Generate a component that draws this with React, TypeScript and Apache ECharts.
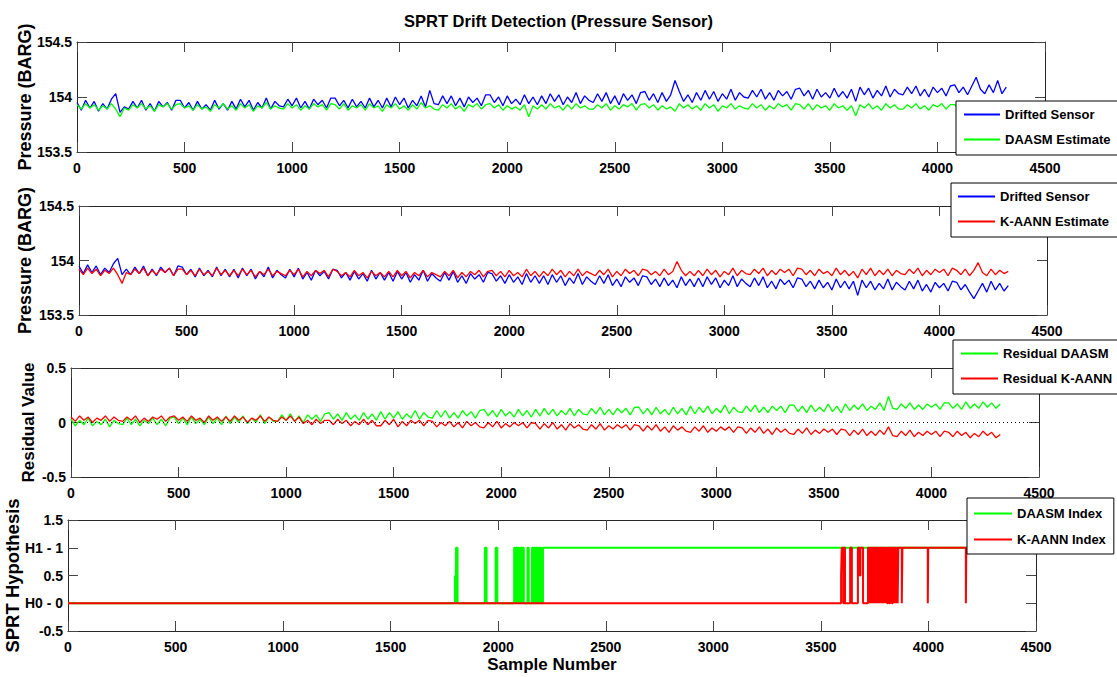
import React, { useEffect, useRef } from "react";
import * as echarts from "echarts";

// Sample spacing of the values
const SAMPLE_STEP = 20;

// Panel 1: drifted sensor vs DAASM estimate (BARG)
const drift1 = [
  153.95, 153.88, 153.97, 153.90, 153.96, 153.87, 153.94, 153.89, 153.98, 154.03, 153.86, 153.91,
  153.89, 153.96, 153.90, 153.97, 153.88, 153.94, 153.87, 153.96, 153.91, 153.95, 153.88, 153.97,
  153.97, 153.90, 153.95, 153.88, 153.96, 153.89, 153.93, 153.88, 153.97, 153.89, 153.94, 153.88,
  153.96, 153.89, 153.98, 153.91, 153.97, 153.88, 153.95, 153.90, 153.99, 153.89, 153.96, 153.92,
  153.91, 153.98, 153.92, 153.99, 153.90, 153.96, 153.89, 153.98, 153.93, 153.97, 153.90, 153.99,
  153.99, 153.92, 153.97, 153.90, 153.98, 153.91, 153.96, 153.90, 153.99, 153.91, 153.97, 153.90,
  153.99, 153.91, 154.00, 153.93, 153.99, 153.90, 153.97, 153.92, 154.01, 153.91, 154.06, 153.94,
  153.93, 154.01, 153.94, 154.01, 153.92, 153.99, 153.91, 154.00, 153.95, 153.99, 153.92, 154.02,
  154.02, 153.95, 154.00, 153.92, 154.01, 153.94, 153.98, 153.93, 154.02, 153.94, 154.00, 153.93,
  154.01, 153.94, 154.03, 153.96, 154.02, 153.93, 154.00, 153.95, 154.04, 153.94, 154.01, 153.97,
  153.95, 154.03, 153.96, 154.04, 153.94, 154.01, 153.93, 154.03, 153.97, 154.02, 153.94, 154.04,
  154.05, 153.97, 154.03, 153.95, 154.04, 153.96, 154.02, 154.15, 154.05, 153.96, 154.02, 153.95,
  154.04, 153.97, 154.06, 153.98, 154.05, 153.96, 154.03, 153.98, 154.07, 153.97, 154.04, 154.00,
  153.99, 154.06, 154.00, 154.07, 153.98, 154.04, 153.97, 154.06, 154.01, 154.05, 153.98, 154.07,
  154.08, 154.01, 154.06, 153.98, 154.07, 154.00, 154.04, 153.99, 154.08, 154.00, 154.05, 153.99,
  154.07, 153.96, 154.09, 154.02, 154.08, 153.99, 154.06, 154.01, 154.10, 154.00, 154.07, 154.03,
  154.02, 154.09, 154.03, 154.10, 154.01, 154.07, 154.00, 154.09, 154.04, 154.08, 154.01, 154.10,
  154.11, 154.04, 154.09, 154.02, 154.10, 154.18, 154.07, 154.03, 154.11, 154.04, 154.15, 154.03,
  154.09,
];
const daasmEstimate = [
  153.93, 153.89, 153.94, 153.90, 153.93, 153.88, 153.92, 153.89, 153.94, 153.89, 153.82, 153.90,
  153.88, 153.93, 153.90, 153.94, 153.89, 153.92, 153.87, 153.93, 153.91, 153.94, 153.89, 153.93,
  153.94, 153.90, 153.92, 153.88, 153.93, 153.89, 153.91, 153.87, 153.93, 153.90, 153.94, 153.89,
  153.92, 153.88, 153.94, 153.90, 153.93, 153.87, 153.92, 153.90, 153.95, 153.89, 153.92, 153.90,
  153.89, 153.94, 153.90, 153.93, 153.88, 153.92, 153.89, 153.94, 153.91, 153.93, 153.88, 153.94,
  153.93, 153.89, 153.94, 153.88, 153.92, 153.90, 153.93, 153.88, 153.94, 153.90, 153.92, 153.87,
  153.93, 153.90, 153.94, 153.89, 153.92, 153.88, 153.93, 153.89, 153.95, 153.90, 153.92, 153.89,
  153.88, 153.93, 153.90, 153.94, 153.89, 153.92, 153.87, 153.93, 153.91, 153.94, 153.89, 153.93,
  153.94, 153.90, 153.93, 153.88, 153.92, 153.89, 153.91, 153.88, 153.93, 153.82, 153.92, 153.89,
  153.93, 153.89, 153.94, 153.90, 153.92, 153.88, 153.93, 153.89, 153.94, 153.90, 153.92, 153.89,
  153.89, 153.93, 153.90, 153.94, 153.88, 153.92, 153.89, 153.93, 153.91, 153.94, 153.88, 153.93,
  153.94, 153.90, 153.93, 153.88, 153.92, 153.89, 153.91, 153.87, 153.94, 153.90, 153.93, 153.89,
  153.92, 153.88, 153.94, 153.90, 153.93, 153.87, 153.92, 153.90, 153.94, 153.89, 153.92, 153.90,
  153.89, 153.94, 153.90, 153.93, 153.88, 153.92, 153.89, 153.94, 153.91, 153.93, 153.88, 153.94,
  153.93, 153.89, 153.94, 153.88, 153.93, 153.90, 153.92, 153.88, 153.94, 153.90, 153.92, 153.88,
  153.92, 153.83, 153.93, 153.90, 153.94, 153.89, 153.92, 153.88, 153.94, 153.90, 153.93, 153.89,
  153.89, 153.93, 153.90, 153.94, 153.89, 153.92, 153.88, 153.93, 153.91, 153.94, 153.89, 153.93,
  153.93, 153.89, 153.94, 153.90, 153.92, 153.88, 153.93, 153.89, 153.92, 153.90, 153.93, 153.89,
  153.91,
];

// Panel 2: drifted sensor vs K-AANN estimate (BARG)
const drift2 = [
  153.95, 153.88, 153.96, 153.89, 153.95, 153.87, 153.93, 153.89, 153.97, 154.02, 153.87, 153.92,
  153.87, 153.94, 153.88, 153.95, 153.86, 153.92, 153.86, 153.94, 153.89, 153.93, 153.86, 153.95,
  153.94, 153.87, 153.92, 153.85, 153.93, 153.86, 153.91, 153.85, 153.94, 153.86, 153.92, 153.85,
  153.92, 153.84, 153.93, 153.86, 153.92, 153.83, 153.90, 153.85, 153.94, 153.84, 153.91, 153.87,
  153.84, 153.92, 153.85, 153.93, 153.83, 153.89, 153.82, 153.91, 153.86, 153.90, 153.83, 153.92,
  153.91, 153.84, 153.89, 153.82, 153.90, 153.83, 153.88, 153.81, 153.91, 153.83, 153.89, 153.82,
  153.89, 153.81, 153.90, 153.83, 153.89, 153.80, 153.87, 153.82, 153.91, 153.81, 153.88, 153.84,
  153.81, 153.89, 153.82, 153.90, 153.80, 153.86, 153.79, 153.88, 153.83, 153.87, 153.80, 153.89,
  153.88, 153.81, 153.86, 153.79, 153.87, 153.80, 153.85, 153.78, 153.88, 153.80, 153.86, 153.79,
  153.86, 153.78, 153.87, 153.80, 153.86, 153.77, 153.84, 153.79, 153.88, 153.78, 153.85, 153.81,
  153.78, 153.86, 153.79, 153.87, 153.77, 153.83, 153.76, 153.85, 153.80, 153.84, 153.77, 153.86,
  153.85, 153.78, 153.83, 153.76, 153.84, 153.77, 153.82, 153.75, 153.85, 153.77, 153.83, 153.76,
  153.84, 153.76, 153.85, 153.78, 153.84, 153.75, 153.82, 153.77, 153.86, 153.76, 153.83, 153.79,
  153.76, 153.84, 153.77, 153.85, 153.75, 153.81, 153.74, 153.83, 153.78, 153.82, 153.75, 153.84,
  153.83, 153.76, 153.81, 153.74, 153.82, 153.75, 153.80, 153.73, 153.83, 153.75, 153.81, 153.74,
  153.81, 153.68, 153.82, 153.75, 153.81, 153.73, 153.79, 153.74, 153.83, 153.73, 153.80, 153.76,
  153.73, 153.81, 153.74, 153.82, 153.72, 153.78, 153.71, 153.80, 153.75, 153.79, 153.72, 153.81,
  153.80, 153.73, 153.78, 153.71, 153.65, 153.72, 153.79, 153.71, 153.81, 153.73, 153.79, 153.72,
  153.77,
];
const kaannEstimate = [
  153.92, 153.87, 153.93, 153.88, 153.92, 153.86, 153.91, 153.88, 153.93, 153.87, 153.79, 153.89,
  153.87, 153.92, 153.88, 153.93, 153.86, 153.91, 153.87, 153.92, 153.89, 153.93, 153.86, 153.92,
  153.92, 153.87, 153.91, 153.86, 153.92, 153.87, 153.90, 153.86, 153.93, 153.87, 153.91, 153.86,
  153.91, 153.86, 153.92, 153.87, 153.91, 153.85, 153.90, 153.87, 153.92, 153.86, 153.90, 153.88,
  153.86, 153.91, 153.87, 153.92, 153.85, 153.90, 153.86, 153.91, 153.88, 153.91, 153.85, 153.92,
  153.90, 153.86, 153.89, 153.85, 153.91, 153.86, 153.89, 153.84, 153.90, 153.86, 153.89, 153.85,
  153.90, 153.85, 153.91, 153.86, 153.90, 153.84, 153.89, 153.86, 153.91, 153.85, 153.89, 153.87,
  153.85, 153.90, 153.86, 153.91, 153.84, 153.89, 153.85, 153.90, 153.87, 153.91, 153.85, 153.90,
  153.91, 153.86, 153.90, 153.85, 153.91, 153.86, 153.89, 153.85, 153.92, 153.86, 153.90, 153.85,
  153.90, 153.86, 153.92, 153.87, 153.91, 153.85, 153.90, 153.86, 153.92, 153.86, 153.90, 153.88,
  153.86, 153.91, 153.87, 153.92, 153.85, 153.90, 153.86, 153.92, 153.88, 153.91, 153.86, 153.92,
  153.91, 153.87, 153.90, 153.86, 153.92, 153.87, 153.90, 153.99, 153.91, 153.86, 153.90, 153.86,
  153.91, 153.86, 153.92, 153.87, 153.91, 153.85, 153.90, 153.87, 153.93, 153.86, 153.91, 153.88,
  153.87, 153.92, 153.88, 153.93, 153.86, 153.91, 153.87, 153.92, 153.89, 153.92, 153.86, 153.93,
  153.92, 153.87, 153.91, 153.86, 153.92, 153.88, 153.90, 153.86, 153.93, 153.87, 153.91, 153.86,
  153.90, 153.84, 153.92, 153.87, 153.93, 153.86, 153.91, 153.87, 153.92, 153.86, 153.91, 153.88,
  153.87, 153.92, 153.88, 153.93, 153.86, 153.91, 153.87, 153.92, 153.89, 153.92, 153.86, 153.93,
  153.91, 153.87, 153.92, 153.86, 153.91, 153.98, 153.89, 153.86, 153.92, 153.87, 153.91, 153.88,
  153.90,
];

// Panel 3: residuals
const residualDaasm = [
  0.03, -0.03, 0.02, -0.02, 0.04, -0.03, 0.01, -0.02, 0.03, -0.04, 0.02, -0.01,
  -0.02, 0.04, -0.02, 0.03, -0.03, 0.02, -0.01, 0.04, -0.02, 0.03, -0.03, 0.04,
  0.05, -0.01, 0.04, -0.02, 0.05, -0.01, 0.03, -0.02, 0.05, -0.01, 0.04, -0.02,
  0.06, -0.01, 0.05, 0.00, 0.06, -0.01, 0.04, 0.00, 0.07, -0.01, 0.05, 0.01,
  0.01, 0.07, 0.02, 0.08, 0.01, 0.06, 0.00, 0.07, 0.03, 0.07, 0.01, 0.08,
  0.09, 0.03, 0.08, 0.02, 0.09, 0.03, 0.07, 0.02, 0.09, 0.03, 0.08, 0.02,
  0.10, 0.03, 0.09, 0.04, 0.10, 0.03, 0.08, 0.04, 0.11, 0.03, 0.09, 0.05,
  0.04, 0.11, 0.05, 0.11, 0.04, 0.09, 0.04, 0.11, 0.06, 0.10, 0.04, 0.11,
  0.12, 0.06, 0.11, 0.05, 0.12, 0.06, 0.10, 0.05, 0.12, 0.06, 0.11, 0.05,
  0.12, 0.06, 0.13, 0.07, 0.12, 0.06, 0.11, 0.07, 0.13, 0.06, 0.12, 0.08,
  0.07, 0.13, 0.08, 0.14, 0.07, 0.12, 0.07, 0.13, 0.09, 0.13, 0.07, 0.14,
  0.14, 0.08, 0.13, 0.07, 0.14, 0.08, 0.12, 0.07, 0.14, 0.08, 0.13, 0.07,
  0.15, 0.08, 0.14, 0.09, 0.15, 0.08, 0.13, 0.09, 0.16, 0.08, 0.14, 0.10,
  0.09, 0.15, 0.10, 0.16, 0.09, 0.14, 0.09, 0.15, 0.11, 0.15, 0.09, 0.16,
  0.16, 0.10, 0.15, 0.09, 0.16, 0.10, 0.14, 0.10, 0.17, 0.10, 0.15, 0.09,
  0.17, 0.11, 0.16, 0.12, 0.17, 0.11, 0.15, 0.12, 0.18, 0.11, 0.24, 0.13,
  0.12, 0.17, 0.13, 0.18, 0.12, 0.16, 0.12, 0.17, 0.14, 0.17, 0.12, 0.18,
  0.18, 0.13, 0.17, 0.12, 0.19, 0.13, 0.17, 0.13, 0.19, 0.14, 0.18, 0.13,
  0.17,
];
const residualKaann = [
  0.05, 0.01, 0.06, 0.02, 0.05, 0.00, 0.04, 0.02, 0.06, 0.01, 0.05, 0.02,
  0.01, 0.05, 0.02, 0.06, 0.00, 0.04, 0.01, 0.05, 0.03, 0.06, 0.01, 0.05,
  0.06, 0.02, 0.05, 0.01, 0.06, 0.02, 0.04, 0.00, 0.06, 0.02, 0.05, 0.01,
  0.05, 0.01, 0.06, 0.02, 0.05, 0.00, 0.04, 0.02, 0.06, 0.01, 0.05, 0.02,
  0.01, 0.05, 0.02, 0.06, 0.01, 0.05, -0.01, 0.02, -0.02, 0.03, -0.01, 0.02,
  0.02, -0.02, 0.03, -0.01, 0.02, -0.03, 0.01, -0.02, 0.03, -0.02, 0.02, -0.03,
  -0.03, 0.02, -0.02, 0.03, -0.04, 0.01, -0.03, 0.02, -0.01, 0.02, -0.03, 0.02,
  0.01, -0.04, 0.00, -0.03, 0.01, -0.04, 0.00, -0.05, 0.01, -0.03, 0.00, -0.04,
  -0.05, 0.00, -0.04, 0.01, -0.05, -0.01, -0.04, 0.00, -0.03, 0.00, -0.05, 0.00,
  -0.01, -0.06, -0.01, -0.05, 0.00, -0.06, -0.02, -0.07, -0.01, -0.05, -0.02, -0.06,
  -0.07, -0.02, -0.06, -0.01, -0.07, -0.03, -0.06, -0.02, -0.05, -0.02, -0.07, -0.02,
  -0.03, -0.08, -0.03, -0.07, -0.02, -0.08, -0.04, -0.09, -0.03, -0.07, -0.04, -0.08,
  -0.09, -0.04, -0.08, -0.03, -0.09, -0.05, -0.08, -0.04, -0.07, -0.04, -0.09, -0.04,
  -0.05, -0.10, -0.05, -0.09, -0.04, -0.10, -0.06, -0.11, -0.05, -0.09, -0.06, -0.10,
  -0.11, -0.06, -0.10, -0.05, -0.11, -0.07, -0.10, -0.06, -0.09, -0.06, -0.11, -0.06,
  -0.07, -0.12, -0.07, -0.11, -0.06, -0.12, -0.08, -0.12, -0.07, -0.11, -0.04, -0.12,
  -0.13, -0.08, -0.12, -0.07, -0.13, -0.09, -0.12, -0.08, -0.11, -0.08, -0.13, -0.08,
  -0.09, -0.13, -0.08, -0.12, -0.09, -0.14, -0.10, -0.13, -0.08, -0.12, -0.09, -0.14,
  -0.11,
];

// Panel 4: SPRT hypothesis, [sample where value changes, new value]
const daasmIndex: [number, number][] = [
  [0, 0], [1799, 0.5], [1802, 0], [1804, 1], [1811, 0],
  [1938, 1], [1946, 0], [1988, 1], [1996, 0],
  [2074, 1], [2079, 0], [2082, 1], [2088, 0], [2091, 1], [2096, 0], [2099, 1],
  [2104, 0], [2107, 1], [2112, 0], [2115, 1], [2119, 0],
  [2136, 1], [2142, 0], [2157, 1], [2162, 0], [2166, 1], [2172, 0], [2176, 1],
  [2182, 0], [2186, 1], [2192, 0], [2196, 1], [2201, 0], [2208, 1], [4320, 1],
];
const kaannIndex: [number, number][] = [
  [0, 0], [3594, 0.5], [3597, 1], [3604, 0], [3608, 1], [3612, 0],
  [3636, 1], [3644, 0], [3672, 1], [3680, 0.5], [3684, 1], [3696, 0],
  [3719, 1], [3724, 0], [3727, 1], [3731, 0], [3734, 1], [3738, 0], [3741, 1],
  [3745, 0], [3748, 1], [3752, 0], [3755, 1], [3759, 0], [3762, 1], [3766, 0],
  [3769, 1], [3773, 0], [3776, 1], [3780, 0], [3783, 1], [3787, 0], [3790, 1],
  [3794, 0], [3797, 1], [3801, 0], [3804, 1], [3808, 0], [3812, 1], [3818, 0],
  [3822, 1], [3830, 0], [3834, 1], [3840, 0], [3842, 1], [3848, 0], [3851, 1],
  [3857, 0], [3860, 1], [3876, 0], [3879, 1], [3997, 0], [3999, 1],
  [4174, 0], [4176, 1], [4320, 1],
];
const hypothesisTickLabels: Record<string, string> = { "0": "H0 - 0", "1": "H1 - 1" };

const FONT = "'Liberation Sans', Arial, Helvetica, sans-serif";

const toPairs = (vals: number[]) => vals.map((v, i) => [i * SAMPLE_STEP, v]);

export default function App() {
  const ref = useRef<HTMLDivElement>(null);

  useEffect(() => {
    const chart = echarts.init(ref.current!, null, { renderer: "svg" });

    const grids = [
      { left: 77, top: 42, width: 968, height: 110 },
      { left: 79, top: 206, width: 968, height: 109 },
      { left: 71, top: 368, width: 968, height: 109 },
      { left: 68, top: 520, width: 968, height: 111 },
    ];
    const yRanges = [
      { min: 153.5, max: 154.5 },
      { min: 153.5, max: 154.5 },
      { min: -0.5, max: 0.5 },
      { min: -0.5, max: 1.5 },
    ];
    const yNames = ["Pressure (BARG)", "Pressure (BARG)", "Residual Value", "SPRT Hypothesis"];
    const yNameGaps = [43, 45, 34, 46];
    const yNameSizes = [18, 18, 17, 18.5];

    const axisLine = { show: true, onZero: false, lineStyle: { color: "#262626", width: 1 } };
    const axisTick = { show: true, inside: true, length: 10, lineStyle: { color: "#444", width: 1 } };
    const labelFont = { color: "#000", fontFamily: FONT, fontWeight: "bold" as const, fontSize: 14 };

    const xAxis: any[] = [];
    const yAxis: any[] = [];
    grids.forEach((_, i) => {
      const base = {
        type: "value",
        gridIndex: i,
        min: 0,
        max: 4500,
        interval: 500,
        axisLine,
        axisTick,
        splitLine: { show: false },
      };
      xAxis.push({
        ...base,
        position: "bottom",
        axisLabel: {
          ...labelFont,
          margin: 9,
          showMinLabel: true,
          showMaxLabel: true,
          formatter: (v: number) => String(v),
        },
        ...(i === 3
          ? {
              name: "Sample Number",
              nameLocation: "middle",
              nameGap: 25,
              nameMoveOverlap: false,
              nameTextStyle: { color: "#000", fontFamily: FONT, fontWeight: "bold", fontSize: 17 },
            }
          : {}),
      });
      xAxis.push({ ...base, position: "top", axisLabel: { show: false } });

      const ybase = {
        type: "value",
        gridIndex: i,
        min: yRanges[i].min,
        max: yRanges[i].max,
        interval: 0.5,
        axisLine,
        axisTick,
        splitLine: { show: false },
      };
      yAxis.push({
        ...ybase,
        position: "left",
        axisLabel: {
          ...labelFont,
          margin: 5,
          showMinLabel: true,
          showMaxLabel: true,
          formatter: (v: number) =>
            i === 3 && hypothesisTickLabels[String(v)] ? hypothesisTickLabels[String(v)] : String(v),
        },
        name: yNames[i],
        nameLocation: "middle",
        nameRotate: 90,
        nameGap: yNameGaps[i],
        nameMoveOverlap: false,
        nameTextStyle: { color: "#000", fontFamily: FONT, fontWeight: "bold", fontSize: yNameSizes[i] },
      });
      yAxis.push({ ...ybase, position: "right", axisLabel: { show: false } });
    });

    const noisy = (name: string, color: string, vals: number[], panel: number) => ({
      name,
      type: "line",
      xAxisIndex: panel * 2,
      yAxisIndex: panel * 2,
      data: toPairs(vals),
      symbol: "none",
      showSymbol: false,
      z: 3,
      lineStyle: { color, width: 1.3 },
      itemStyle: { color },
      clip: true,
    });
    const stepped = (name: string, color: string, pts: [number, number][]) => ({
      name,
      type: "line",
      xAxisIndex: 6,
      yAxisIndex: 6,
      data: pts,
      step: "end",
      symbol: "none",
      showSymbol: false,
      z: 3,
      lineStyle: { color, width: 2 },
      itemStyle: { color },
      clip: true,
    });

    const legendText = { color: "#000", fontFamily: FONT, fontWeight: "bold" as const, fontSize: 13 };
    const legendBase = {
      orient: "vertical",
      backgroundColor: "#fff",
      borderColor: "#000",
      borderWidth: 1,
      borderRadius: 0,
      itemHeight: 14,
      itemGap: 12,
      selectedMode: false,
      textStyle: legendText,
      itemStyle: { opacity: 0 },
      z: 10,
    };

    chart.setOption({
      animation: false,
      backgroundColor: "#fff",
      title: {
        text: "SPRT Drift Detection (Pressure Sensor)",
        left: "center",
        top: 7,
        textStyle: { color: "#000", fontFamily: FONT, fontWeight: "bold", fontSize: 16.5 },
      },
      grid: grids.map((g) => ({ ...g, show: false, containLabel: false, outerBoundsMode: "none" })),
      xAxis,
      yAxis,
      legend: [
        { ...legendBase, data: ["Drifted Sensor", "DAASM Estimate"], left: 956, top: 101, padding: [7, 12, 9, 7], itemWidth: 36 },
        { ...legendBase, data: ["Drifted Sensor ", "K-AANN Estimate"], left: 951, top: 183, padding: [7, 12, 9, 6], itemWidth: 37 },
        { ...legendBase, data: ["Residual DAASM", "Residual K-AANN"], left: 953, top: 340, padding: [7, 12, 9, 7], itemWidth: 37 },
        { ...legendBase, data: ["DAASM Index", "K-AANN Index"], left: 967, top: 498, padding: [9, 8, 8, 6], itemWidth: 38, itemGap: 13 },
      ],
      series: [
        noisy("Drifted Sensor", "#0000ff", drift1, 0),
        noisy("DAASM Estimate", "#00ff00", daasmEstimate, 0),
        noisy("Drifted Sensor ", "#0000ff", drift2, 1),
        noisy("K-AANN Estimate", "#ff0000", kaannEstimate, 1),
        {
          name: "zero",
          type: "line",
          xAxisIndex: 4,
          yAxisIndex: 4,
          data: [],
          z: 2,
          silent: true,
          markLine: {
            silent: true,
            symbol: ["none", "none"],
            label: { show: false },
            lineStyle: { color: "#000", type: [1, 3], width: 1 },
            data: [{ yAxis: 0 }],
          },
        },
        noisy("Residual DAASM", "#00ff00", residualDaasm, 2),
        noisy("Residual K-AANN", "#ff0000", residualKaann, 2),
        stepped("DAASM Index", "#00ff00", daasmIndex),
        stepped("K-AANN Index", "#ff0000", kaannIndex),
      ],
    });

    return () => chart.dispose();
  }, []);

  return (
    <div
      ref={ref}
      style={{ position: "fixed", left: 0, top: 0, width: 1117, height: 677, background: "#fff" }}
    />
  );
}
